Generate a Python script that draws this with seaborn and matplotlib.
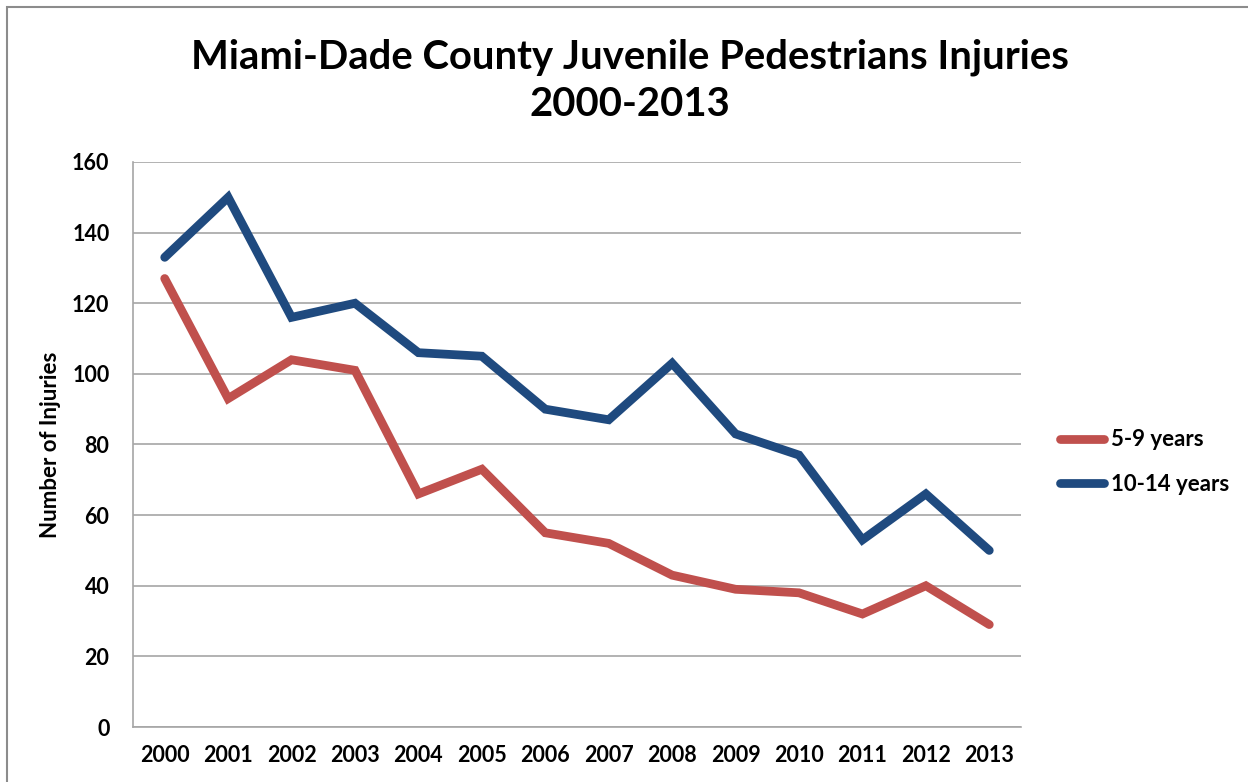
import matplotlib
matplotlib.use("Agg")
import matplotlib.pyplot as plt
import seaborn as sns
import pandas as pd
from matplotlib.patches import Rectangle

years = ["2000", "2001", "2002", "2003", "2004", "2005", "2006",
         "2007", "2008", "2009", "2010", "2011", "2012", "2013"]
age_5_9 = [127, 93, 104, 101, 66, 73, 55, 52, 43, 39, 38, 32, 40, 29]
age_10_14 = [133, 150, 116, 120, 106, 105, 90, 87, 103, 83, 77, 53, 66, 50]
series_names = ["5-9 years", "10-14 years"]
colors = ["#C0504D", "#1F4A7F"]
yticks = [0, 20, 40, 60, 80, 100, 120, 140, 160]

sns.set_theme(style="white")
plt.rcParams['font.family'] = ['Lato', 'DejaVu Sans']
plt.rcParams['text.color'] = 'black'
plt.rcParams['xtick.color'] = 'black'
plt.rcParams['ytick.color'] = 'black'
plt.rcParams['axes.labelcolor'] = 'black'

df = pd.DataFrame({
    "idx": list(range(len(years))) * 2,
    "value": age_5_9 + age_10_14,
    "series": [series_names[0]] * len(years) + [series_names[1]] * len(years),
})

fig = plt.figure(figsize=(12.48, 7.82), dpi=100)
ax = fig.add_axes([133/1248, 1 - 727/782, (1021-133)/1248, (727-162)/782])

sns.lineplot(data=df, x="idx", y="value", hue="series", hue_order=series_names,
             palette=colors, linewidth=6.3, ax=ax, legend=True,
             solid_capstyle="round", solid_joinstyle="miter")

ax.set_xlim(-0.5, len(years) - 0.5)
ax.set_ylim(0, 160)
ax.set_yticks(yticks)
ax.set_yticklabels([str(v) for v in yticks], fontsize=15.5, fontweight="bold")
ax.set_xticks(range(len(years)))
ax.set_xticklabels(years, fontsize=15.5, fontweight="bold")
ax.tick_params(axis="y", length=0, pad=17)
ax.tick_params(axis="x", length=0, pad=13)
ax.set_xlabel("")
ax.set_ylabel("Number of Injuries", fontsize=16, fontweight="bold", labelpad=8)
ax.yaxis.grid(True, color="#A6A6A6", linewidth=1.2)
ax.set_axisbelow(True)
for s in ["top", "right"]:
    ax.spines[s].set_visible(False)
for s in ["left", "bottom"]:
    ax.spines[s].set_color("#A6A6A6")
    ax.spines[s].set_linewidth(1.2)

leg = ax.legend(loc="center left", bbox_to_anchor=(1040/1248, 1 - 462/782),
                bbox_transform=fig.transFigure, frameon=False,
                prop={"size": 16, "weight": "bold"}, handlelength=2.0,
                handletextpad=0.3, labelspacing=1.05)
for line in leg.get_lines():
    line.set_linewidth(6.3)
    line.set_solid_capstyle("round")

fig.text(630/1248, 1 - 57/782, "Miami-Dade County Juvenile Pedestrians Injuries",
         ha="center", va="center", fontsize=28.8, fontweight="bold")
fig.text(630/1248, 1 - 104/782, "2000-2013",
         ha="center", va="center", fontsize=28.8, fontweight="bold")

fig.patches.append(Rectangle((7/1248, -0.1), 1.2, 1 - 7/782 + 0.1,
                             transform=fig.transFigure, fill=False,
                             edgecolor="#8C8C8C", linewidth=1.5, zorder=-1))

fig.savefig("out.png", dpi=100)
